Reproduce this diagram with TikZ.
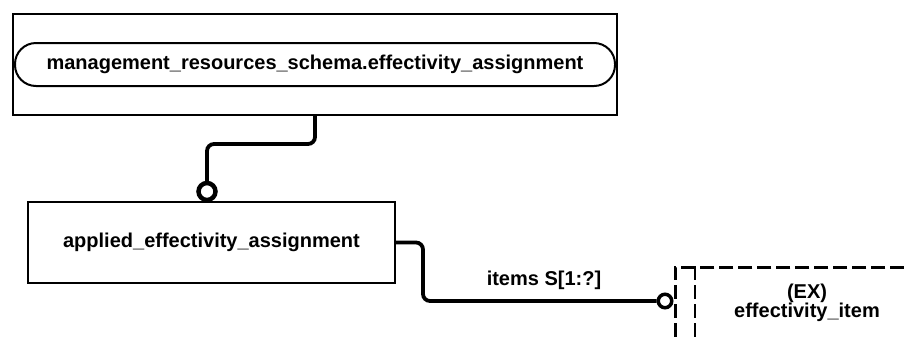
\documentclass[tikz,border=0pt]{standalone}
\usepackage{fontspec}
\setmainfont{Liberation Sans}
\usepackage{tikz}

\begin{document}
\begin{tikzpicture}[x=1pt, y=-1pt,
        entity/.style={draw, line width=2pt, inner sep=0pt},
        link/.style={line width=3.8pt, rounded corners=7pt},
        ring/.style={circle, draw, fill=white, inner sep=0pt},
        lbl/.style={font=\fontsize{20}{22}\selectfont\bfseries}]
        \clip (0, 0) rectangle (904, 338);

        % Draw entities
        \node[entity, minimum width=604, minimum height=101] (schema) at (315, 64.5) {};
        \node[entity, rounded corners=21pt, minimum width=600, minimum height=43, lbl] (schemaname) at (315, 64.5) {management\_resources\_schema.effectivity\_assignment};
        \node[entity, minimum width=367, minimum height=81, lbl] (applied) at (211.5, 242.5) {applied\_effectivity\_assignment};
        \node[draw, line width=2.5pt, dash pattern=on 14pt off 5pt, minimum width=330, minimum height=120, anchor=north west] (item) at (674, 266) {};
        \node[lbl, align=center] (itemname) at (807, 303) {(EX)\\[-3pt]effectivity\_item};

        % Draw rings
        \node[ring, line width=4.5pt, minimum size=17pt] (topring) at (207, 191.5) {};
        \node[ring, line width=3.5pt, minimum size=13.5pt] (itemring) at (665, 301) {};

        % Draw edges
        \draw[link] (schema.south) -- ++(0, 28) -| (topring.north);
        \draw[link] (applied.east) -- ++(27, 0) |- (itemring.west);
        \draw[line width=2.5pt, dash pattern=on 14pt off 5pt] ([xshift=21pt]item.north west) -- ([xshift=21pt]item.south west);
        \node[lbl] (itemslabel) at (544, 280) {items S[1:?]};
      \end{tikzpicture}
\end{document}
